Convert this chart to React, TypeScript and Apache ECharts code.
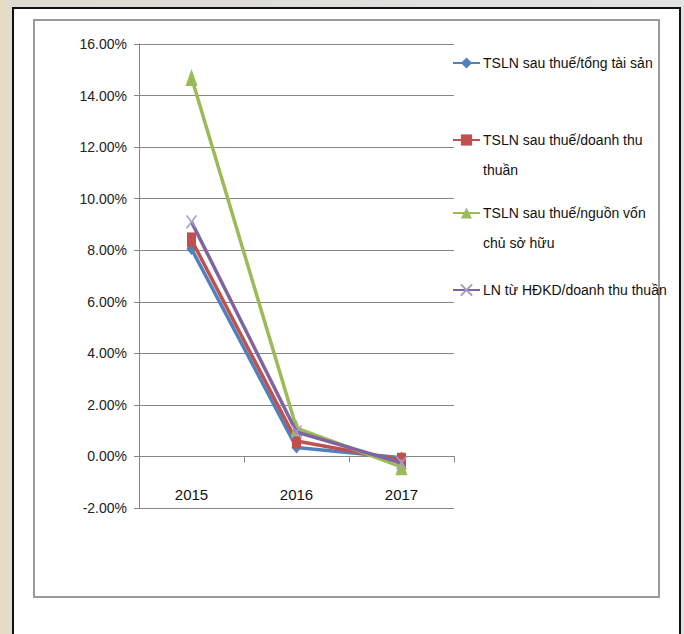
import React, { useEffect, useRef } from "react";
import * as echarts from "echarts";

const years = ["2015", "2016", "2017"];
const seriesNames = [
  "TSLN sau thuế/tổng tài sản",
  "TSLN sau thuế/doanh thu thuần",
  "TSLN sau thuế/nguồn vốn chủ sở hữu",
  "LN từ HĐKD/doanh thu thuần",
];
const roaValues = [8.05, 0.35, -0.05];
const rosValues = [8.4, 0.6, -0.15];
const roeValues = [14.7, 1.1, -0.4];
const opValues = [9.1, 0.95, -0.25];
const yTicks = { min: -2, max: 16, step: 2 };

// leading empty line keeps the legend marker level with the first text line
const legendLabels: Record<string, string> = {
  "TSLN sau thuế/tổng tài sản": "TSLN sau thuế/tổng tài sản",
  "TSLN sau thuế/doanh thu thuần": "\nTSLN sau thuế/doanh thu\nthuần",
  "TSLN sau thuế/nguồn vốn chủ sở hữu": "\nTSLN sau thuế/nguồn vốn\nchủ sở hữu",
  "LN từ HĐKD/doanh thu thuần": "LN từ HĐKD/doanh thu thuần",
};

const FONT = "'Liberation Sans', Arial, sans-serif";
const colors = ["#4F81BD", "#C0504D", "#9BBB59", "#8064A2"];

export default function App() {
  const ref = useRef<HTMLDivElement>(null);
  useEffect(() => {
    if (!ref.current) return;
    const chart = echarts.init(ref.current, undefined, { renderer: "svg" });
    const values = [roaValues, rosValues, roeValues, opValues];
    const symbols = [
      { symbol: "diamond", symbolSize: [10, 12] },
      { symbol: "rect", symbolSize: [9, 15] },
      { symbol: "triangle", symbolSize: [12, 17] },
      { symbol: "path://M0,0 L10,10 M10,0 L0,10", symbolSize: [10, 13] },
    ];
    const legendTops = [48, 95, 168, 275];
    const legends = seriesNames.map((n, i) => ({
      data: [n],
      left: 452,
      top: legendTops[i],
      orient: "vertical",
      padding: 0,
      itemGap: 0,
      itemWidth: 27,
      itemHeight: 14,
      selectedMode: false,
      formatter: (name: string) => legendLabels[name] || name,
      textStyle: {
        fontFamily: FONT,
        fontSize: 14,
        color: "#111111",
        lineHeight: 30,
        padding: [0, 0, 0, -2],
      },
    }));
    chart.setOption({
      animation: false,
      backgroundColor: {
        type: "linear",
        x: 0,
        y: 0,
        x2: 1,
        y2: 0,
        colorStops: [
          { offset: 0, color: "#e8dcc2" },
          { offset: 0.02, color: "#dedcd2" },
          { offset: 1, color: "#dfe3e1" },
        ],
      },
      color: colors,
      graphic: [
        {
          type: "rect",
          z: -10,
          shape: { x: 13, y: 8, width: 667, height: 640 },
          style: { fill: "#ffffff", stroke: "#111111", lineWidth: 2 },
        },
        {
          type: "rect",
          z: -9,
          shape: { x: 34, y: 20, width: 625, height: 577 },
          style: { fill: "#ffffff", stroke: "#9a9a9a", lineWidth: 2 },
        },
      ],
      legend: legends,
      grid: { left: 139, top: 44, width: 315, height: 464, containLabel: false },
      xAxis: {
        type: "category",
        data: years,
        boundaryGap: true,
        axisLine: { onZero: true, lineStyle: { color: "#868686", width: 1 } },
        axisTick: { show: true, length: 6, lineStyle: { color: "#868686" } },
        axisLabel: { margin: -21, fontFamily: FONT, fontSize: 15, color: "#111111" },
      },
      yAxis: {
        type: "value",
        min: yTicks.min,
        max: yTicks.max,
        interval: yTicks.step,
        axisLine: { show: true, lineStyle: { color: "#868686", width: 1 } },
        axisTick: { show: true, length: 5, lineStyle: { color: "#868686" } },
        splitLine: { show: true, lineStyle: { color: "#868686", width: 1 } },
        axisLabel: {
          margin: 12,
          fontFamily: FONT,
          fontSize: 14,
          color: "#222222",
          formatter: (v: number) => v.toFixed(2) + "%",
        },
      },
      series: seriesNames.map((n, i) => ({
        name: n,
        type: "line",
        data: values[i],
        symbol: symbols[i].symbol,
        symbolSize: symbols[i].symbolSize,
        showSymbol: true,
        lineStyle: { width: 3.5, color: colors[i] },
        itemStyle:
          i === 3
            ? { color: "#ab9bcc", borderColor: "#a898cb", borderWidth: 1.5 }
            : { color: colors[i], borderWidth: 0 },
        z: 2 + i,
      })),
    });
    return () => chart.dispose();
  }, []);
  return (
    <div
      ref={ref}
      style={{ position: "fixed", left: 0, top: 0, width: 684, height: 634 }}
    />
  );
}
